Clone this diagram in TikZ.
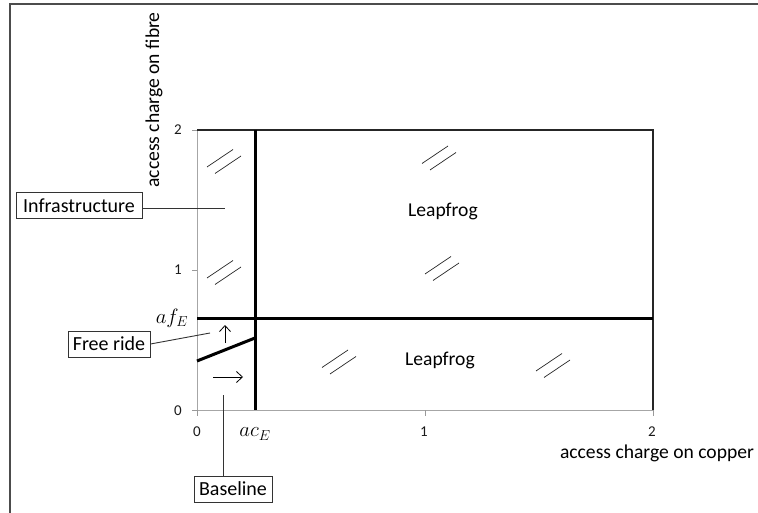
\documentclass[tikz,border=0pt]{standalone}
\usepackage{fontspec}
\setmainfont{Carlito}
\usetikzlibrary{arrows.meta}
\begin{document}
\begin{tikzpicture}[x=1pt,y=-1pt,
  lbl/.style={font=\fontsize{19.6}{22}\selectfont, inner sep=0pt},
  ticklbl/.style={font=\fontsize{15}{17}\selectfont, text=black!90, inner sep=0pt},
  mathlbl/.style={font=\fontsize{21}{24}\selectfont, inner sep=0pt},
  callout/.style={draw=black!80, line width=1pt, font=\fontsize{20}{23}\selectfont,
    inner sep=0pt, minimum height=26pt},
  leader/.style={draw=black!80, line width=0.9pt},
  regionline/.style={line width=3pt, black},
  plotframe/.style={line width=1.4pt, black!85},
  gridaxis/.style={line width=1pt, black!35},
  tickmark/.style={line width=0.8pt, black!40},
  hatch/.style={line width=0.7pt, black!85},
  dirarrow/.style={line width=0.8pt, -{Straight Barb[length=6pt,width=11pt]}},
  dbl/.pic={
    \draw[hatch] (-17,5.5) -- (9,-12);
    \draw[hatch] (-9,12) -- (17,-5.5);
  },
]
\useasboundingbox (0,0) rectangle (758,513);

% outer frame
\draw[line width=1.5pt, black!70] (10,513) -- (10,4) -- (758,4);

% plot area: grey axes, dark top and right borders
\draw[gridaxis] (197,410) -- (197,130);
\draw[gridaxis] (197,410) -- (653,410);
\draw[plotframe] (197,130) -- (653,130) -- (653,410);

% ticks
\foreach \yy in {130,270,410} \draw[tickmark] (192,\yy) -- (197,\yy);
\foreach \xx in {197,425,653} \draw[tickmark] (\xx,410) -- (\xx,416);

% tick labels
\node[ticklbl] (y2) at (178,130) {2};
\node[ticklbl] (y1) at (178,270) {1};
\node[ticklbl] (y0) at (178,411) {0};
\node[ticklbl] (x0) at (197,432) {0};
\node[ticklbl] (x1) at (424,432) {1};
\node[ticklbl] (x2) at (652,432) {2};

% axis titles
\node[lbl, anchor=base] (xtitle) at (657,458) {access charge on copper};
\node[lbl, rotate=90, anchor=base] (ytitle) at (159,100) {access charge on fibre};

% region boundaries
\draw[regionline] (255,130) -- (255,410);
\draw[regionline] (197,318.5) -- (653,318.5);
\draw[regionline] (197,361) -- (255,338);

% threshold labels
\node[mathlbl] (afE) at (172,318) {$af_E$};
\node[mathlbl] (acE) at (255,434) {$ac_E$};

% direction arrows
\draw[dirarrow] (225,343) -- (225,325);
\draw[dirarrow] (213,377) -- (243,377);

% hatch marks
\pic at (224,161.5) {dbl};
\pic at (439,158) {dbl};
\pic at (224,272.5) {dbl};
\pic at (442,268.5) {dbl};
\pic at (339,362) {dbl};
\pic at (553,365.5) {dbl};

% region names
\node[lbl, anchor=base] (leapA) at (443,217) {Leapfrog};
\node[lbl, anchor=base] (leapB) at (440,365) {Leapfrog};

% callouts
\node[callout, minimum width=126pt] (infra) at (79,206) {Infrastructure};
\node[callout, minimum width=82pt] (free) at (109,344) {Free ride};
\node[callout, minimum width=78pt] (base) at (233,489) {Baseline};

\coordinate (infraEnd) at (225,208);
\coordinate (freeEnd) at (210,333);
\coordinate (baseEnd) at (223,395);

\draw[leader] (infra.east |- infraEnd) -- (infraEnd);
\draw[leader] (free.east) -- (freeEnd);
\draw[leader] (base.north -| baseEnd) -- (baseEnd);
\end{tikzpicture}
\end{document}
